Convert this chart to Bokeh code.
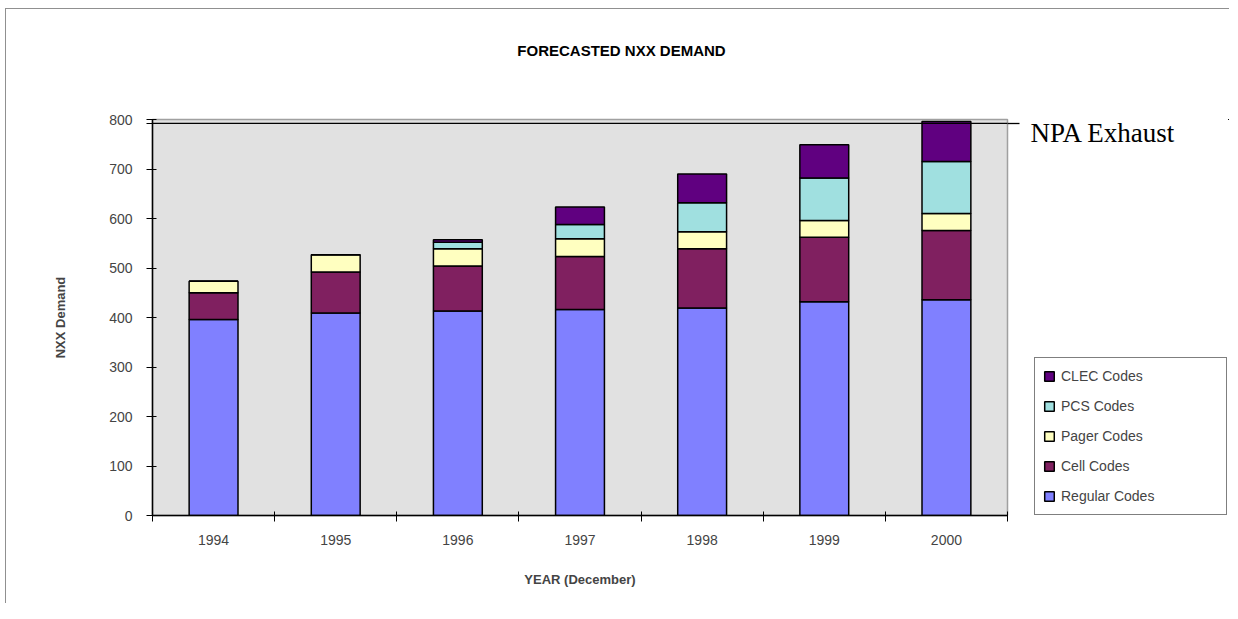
from bokeh.plotting import figure
from bokeh.layouts import row, column
from bokeh.models import (ColumnDataSource, Range1d, FixedTicker, Legend, LegendItem,
                          Label, Span, LinearAxis)
from bokeh.embed import file_html
from bokeh.resources import INLINE

# ---- data ----
years = ["1994", "1995", "1996", "1997", "1998", "1999", "2000"]
regular = [396, 409, 413, 416, 419, 432, 436]
cell = [54, 83, 91, 107, 120, 130, 140]
pager = [23, 35, 35, 36, 34, 34, 34]
pcs = [0, 0, 13, 29, 59, 86, 105]
clec = [0, 0, 5, 35, 58, 67, 81]
series_names = ["Regular Codes", "Cell Codes", "Pager Codes", "PCS Codes", "CLEC Codes"]
npa_exhaust = 792
y_ticks = [0, 100, 200, 300, 400, 500, 600, 700, 800]
title_text = "FORECASTED NXX DEMAND"

colors = ["#8080ff", "#802060", "#ffffc0", "#a0e0e0", "#600080"]
FONT = "Liberation Sans"
stackers = ["regular", "cell", "pager", "pcs", "clec"]

centers = [i + 0.5 for i in range(len(years))]
bounds = list(range(len(years) + 1))
source = ColumnDataSource(dict(x=centers, regular=regular, cell=cell, pager=pager,
                               pcs=pcs, clec=clec))

GRAY = "#909090"


def bare_figure(w, h):
    f = figure(width=w, height=h, x_range=Range1d(-1000, -1000 + len(years)),
               y_range=Range1d(-5800, -5000), output_backend="svg", toolbar_location=None,
               x_axis_location=None, y_axis_location=None,
               min_border=0, min_border_left=0, min_border_right=0,
               min_border_top=0, min_border_bottom=0)
    f.outline_line_color = None
    f.background_fill_alpha = 0
    f.border_fill_alpha = 0
    f.xgrid.grid_line_color = None
    f.ygrid.grid_line_color = None
    return f


TITLE_H = 70

# ---- title strip ----
tf = bare_figure(1229, TITLE_H)
tf.styles = {
    "background-color": "white",
    "background-image": f"linear-gradient({GRAY}, {GRAY}), linear-gradient({GRAY}, {GRAY})",
    "background-repeat": "no-repeat",
    "background-size": "1px 100%, 100% 1px",
    "background-position": "5px 8px, 5px 8px",
}
tf.add_layout(Label(x=621, y=TITLE_H - 50, x_units="screen", y_units="screen",
                    text=title_text, text_font=FONT, text_font_style="bold",
                    text_font_size="15px", text_align="center", text_baseline="middle",
                    text_color="black"))

# ---- main chart ----
p = figure(frame_width=855, frame_height=396,
           x_range=Range1d(0, len(years)), y_range=Range1d(0, 800),
           output_backend="svg", toolbar_location=None,
           min_border_left=152, min_border_right=14,
           min_border_top=119 - TITLE_H, min_border_bottom=88)
p.background_fill_color = "#e1e1e1"
p.border_fill_color = "white"
p.border_fill_alpha = 0
p.outline_line_color = "#a0a0a0"
p.outline_line_width = 1.5
p.xgrid.grid_line_color = None
p.ygrid.grid_line_color = None
p.styles = {
    "background-color": "white",
    "background-image": f"linear-gradient({GRAY}, {GRAY})",
    "background-repeat": "no-repeat",
    "background-size": "1px 100%",
    "background-position": "5px 0px",
}

p.vbar_stack(stackers, x="x", width=0.4, source=source, fill_color=colors,
             line_color="black", line_width=1.5)

# y axis
ya = p.yaxis[0]
ya.ticker = FixedTicker(ticks=y_ticks + [npa_exhaust])
ya.major_label_overrides = {npa_exhaust: ""}
ya.major_tick_in = 4
ya.major_tick_out = 6
ya.minor_tick_line_color = None
ya.axis_line_color = "black"
ya.axis_line_width = 1.5
ya.major_label_text_font = FONT
ya.major_label_text_font_size = "14px"
ya.major_label_standoff = 14
ya.axis_label = "NXX Demand"
ya.axis_label_text_font = FONT
ya.axis_label_text_font_style = "bold"
ya.axis_label_text_font_size = "13px"
ya.axis_label_standoff = 38

# x axis
xa = p.xaxis[0]
xa.ticker = FixedTicker(ticks=centers, minor_ticks=bounds)
xa.major_label_overrides = {c: y for c, y in zip(centers, years)}
xa.major_tick_in = 0
xa.major_tick_out = 0
xa.minor_tick_in = 4
xa.minor_tick_out = 6
xa.minor_tick_line_color = "black"
xa.axis_line_color = "black"
xa.axis_line_width = 1.5
xa.major_label_text_font = FONT
xa.major_label_text_font_size = "14px"
xa.major_label_standoff = 13
xa.axis_label = "YEAR (December)"
xa.axis_label_text_font = FONT
xa.axis_label_text_font_style = "bold"
xa.axis_label_text_font_size = "13px"
xa.axis_label_standoff = 24

# NPA exhaust line (inside the frame, extended on the right by an axis tick)
p.add_layout(Span(location=npa_exhaust, dimension="width", line_color="black",
                  line_width=1.3))
ra = LinearAxis(ticker=FixedTicker(ticks=[npa_exhaust]), axis_line_color=None,
                major_tick_in=0, major_tick_out=12, major_tick_line_color="black",
                major_tick_line_width=1.3, minor_tick_line_color=None,
                major_label_standoff=0, major_label_text_font_size="1px",
                major_label_overrides={npa_exhaust: ""})
p.add_layout(ra, "right")

# ---- side panel: legend + NPA label (frame aligned with the main chart's frame) ----
side = bare_figure(208, 603 - TITLE_H)
side.styles = {"background-color": "white"}
side_renderers = side.vbar_stack(stackers, x="x", width=0.4, source=source,
                                 fill_color=colors, line_color="black", line_width=1.5)

side.add_layout(Label(x=9, y=383, x_units="screen", y_units="screen", text="NPA Exhaust",
                      text_font="Liberation Serif", text_font_size="27px",
                      text_baseline="alphabetic", text_align="left", text_color="black"))

items = [LegendItem(label=n, renderers=[r]) for n, r in zip(series_names, side_renderers)]
legend = Legend(items=list(reversed(items)), location=(13, 0))
legend.label_text_font = FONT
legend.label_text_font_size = "14px"
legend.glyph_width = 12
legend.glyph_height = 12
legend.label_height = 20
legend.label_width = 157
legend.label_standoff = 6
legend.spacing = 10
legend.padding = 8
legend.margin = 0
legend.border_line_color = "black"
legend.border_line_width = 1
legend.background_fill_color = "white"
legend.background_fill_alpha = 1
side.add_layout(legend)

layout = column(tf, row(p, side, spacing=0), spacing=0)
open("out.html", "w").write(file_html(layout, INLINE))
